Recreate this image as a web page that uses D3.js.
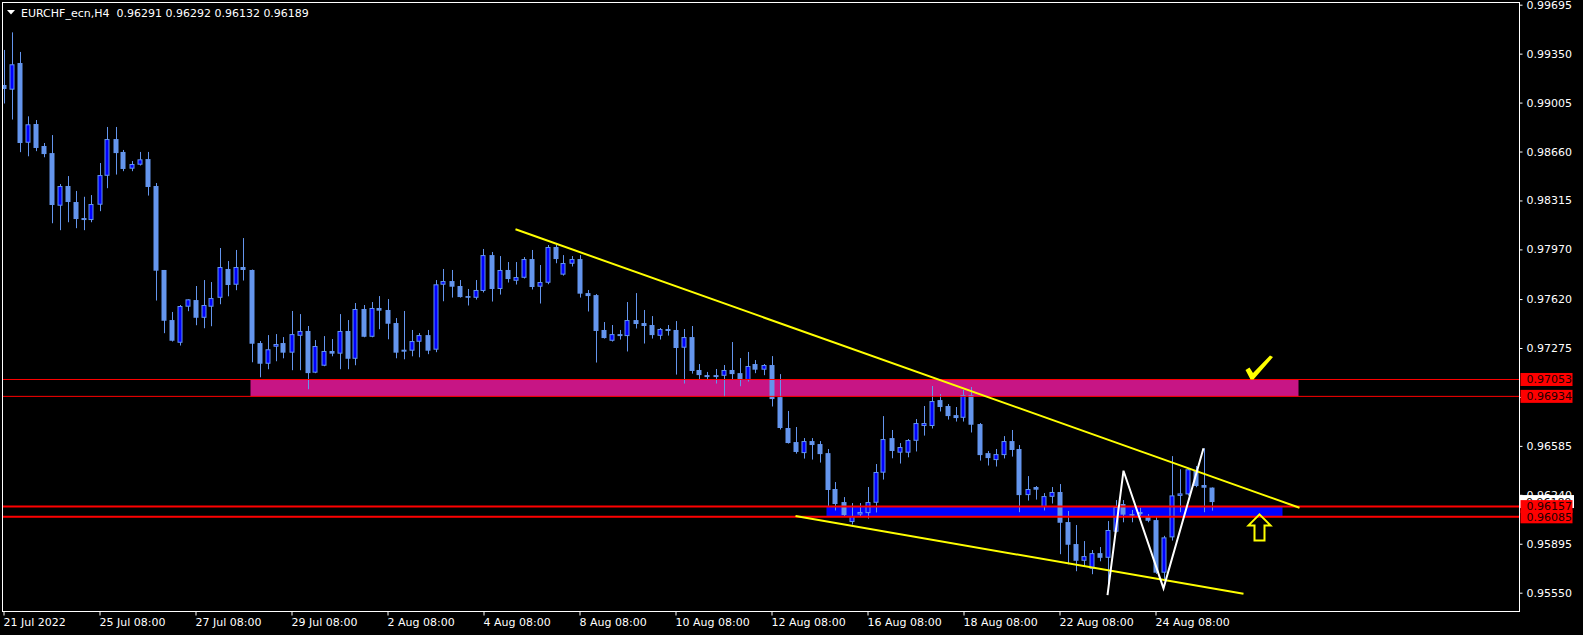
<!DOCTYPE html>
<html><head><meta charset="utf-8">
<script src="https://cdn.jsdelivr.net/npm/d3@7"></script>
<style>html,body{margin:0;padding:0;background:#000;overflow:hidden}svg{display:block}</style>
</head><body>
<svg id="c" width="1583" height="635"></svg>
<script>
const symbolName = "EURCHF_ecn,H4";
const headerOHLC = ["0.96291","0.96292","0.96132","0.96189"];
const opens = [0.99129,0.99096,0.99284,0.98722,0.98854,0.98699,0.98649,0.98278,0.98417,0.98304,
0.98191,0.98177,0.98285,0.98489,0.98748,0.98657,0.98539,0.98567,0.98607,0.98417,
0.97825,0.97472,0.97312,0.97566,0.97613,0.97488,0.97566,0.97629,0.97832,0.97721,
0.97846,0.97825,0.97310,0.97164,0.97284,0.97310,0.97242,0.97361,0.97395,0.97101,
0.97150,0.97254,0.97235,0.97395,0.97199,0.97550,0.97354,0.97557,0.97543,0.97451,
0.97263,0.97256,0.97319,0.97366,0.97263,0.97721,0.97747,0.97712,0.97641,0.97629,
0.97677,0.97930,0.97691,0.97825,0.97749,0.97770,0.97902,0.97707,0.97735,0.97987,
0.97792,0.97869,0.97902,0.97662,0.97648,0.97402,0.97326,0.97373,0.97359,0.97472,
0.97451,0.97437,0.97361,0.97409,0.97402,0.97277,0.97352,0.97120,0.97084,0.97084,
0.97079,0.97120,0.97098,0.97049,0.97162,0.97122,0.97155,0.96929,0.96711,0.96612,
0.96534,0.96619,0.96598,0.96534,0.96281,0.96189,0.96048,0.96104,0.96111,0.96184,
0.96396,0.96640,0.96537,0.96537,0.96621,0.96725,0.96725,0.96908,0.96866,0.96802,
0.96783,0.96943,0.96739,0.96534,0.96485,0.96520,0.96619,0.96563,0.96238,0.96295,
0.96154,0.96226,0.96260,0.96048,0.95893,0.95775,0.95719,0.95829,0.95796,0.95980,
0.96175,0.96104,0.96119,0.96090,0.96062,0.95691,0.95940,0.96236,0.96243,0.96415,
0.96309,0.96291];
const highs = [0.99376,0.99500,0.99362,0.98908,0.98882,0.98720,0.98776,0.98431,0.98487,0.98382,
0.98341,0.98353,0.98579,0.98833,0.98833,0.98671,0.98593,0.98657,0.98657,0.98438,
0.97825,0.97529,0.97578,0.97618,0.97712,0.97754,0.97740,0.97980,0.97888,0.97966,
0.98050,0.97828,0.97324,0.97366,0.97373,0.97352,0.97536,0.97514,0.97430,0.97331,
0.97359,0.97338,0.97514,0.97472,0.97592,0.97578,0.97599,0.97641,0.97620,0.97486,
0.97536,0.97402,0.97380,0.97402,0.97754,0.97832,0.97825,0.97754,0.97691,0.97754,
0.97973,0.97952,0.97923,0.97881,0.97881,0.97916,0.97966,0.97860,0.98001,0.98001,
0.97930,0.97923,0.97930,0.97684,0.97655,0.97458,0.97437,0.97402,0.97599,0.97662,
0.97543,0.97500,0.97416,0.97437,0.97465,0.97409,0.97430,0.97162,0.97106,0.97127,
0.97155,0.97317,0.97204,0.97247,0.97190,0.97162,0.97218,0.97091,0.96831,0.96718,
0.96640,0.96640,0.96619,0.96563,0.96330,0.96224,0.96182,0.96182,0.96295,0.96457,
0.96795,0.96697,0.96605,0.96633,0.96774,0.96866,0.97007,0.96950,0.96880,0.96859,
0.96979,0.97000,0.96746,0.96549,0.96563,0.96654,0.96697,0.96591,0.96372,0.96302,
0.96252,0.96295,0.96316,0.96126,0.96027,0.95914,0.95851,0.95872,0.96055,0.96203,
0.96203,0.96133,0.96149,0.96104,0.96085,0.95951,0.96513,0.96420,0.96427,0.96443,
0.96568,0.96292];
const lows = [0.99002,0.98889,0.98659,0.98630,0.98666,0.98623,0.98158,0.98109,0.98165,0.98123,
0.98109,0.98165,0.98243,0.98405,0.98501,0.98525,0.98525,0.98565,0.98353,0.97613,
0.97383,0.97324,0.97296,0.97538,0.97439,0.97418,0.97432,0.97587,0.97643,0.97686,
0.97754,0.97178,0.97072,0.97129,0.97185,0.97206,0.97122,0.97122,0.96988,0.97101,
0.97150,0.97220,0.97129,0.97129,0.97157,0.97354,0.97354,0.97411,0.97340,0.97206,
0.97199,0.97220,0.97213,0.97235,0.97249,0.97608,0.97634,0.97634,0.97578,0.97620,
0.97670,0.97606,0.97655,0.97740,0.97726,0.97768,0.97691,0.97592,0.97728,0.97876,
0.97789,0.97853,0.97634,0.97536,0.97176,0.97345,0.97324,0.97338,0.97254,0.97416,
0.97310,0.97345,0.97338,0.97366,0.97091,0.97028,0.97098,0.97056,0.97056,0.97028,
0.96936,0.97054,0.97009,0.97042,0.97101,0.97087,0.96866,0.96704,0.96605,0.96534,
0.96499,0.96492,0.96471,0.96163,0.96133,0.96090,0.96034,0.96090,0.96076,0.96119,
0.96351,0.96501,0.96464,0.96508,0.96549,0.96661,0.96711,0.96831,0.96774,0.96760,
0.96760,0.96683,0.96485,0.96450,0.96443,0.96500,0.96513,0.96121,0.96203,0.96210,
0.96133,0.96182,0.95825,0.95754,0.95705,0.95738,0.95684,0.95775,0.95583,0.95978,
0.96050,0.96050,0.96062,0.96050,0.95686,0.95639,0.95921,0.96121,0.96238,0.96297,
0.96121,0.96132];
const closes = [0.99101,0.99275,0.98720,0.98852,0.98685,0.98642,0.98283,0.98417,0.98304,0.98184,
0.98177,0.98290,0.98494,0.98748,0.98649,0.98537,0.98572,0.98605,0.98410,0.97820,
0.97467,0.97326,0.97571,0.97618,0.97488,0.97578,0.97627,0.97846,0.97719,0.97846,
0.97825,0.97305,0.97164,0.97266,0.97303,0.97242,0.97373,0.97395,0.97098,0.97289,
0.97254,0.97235,0.97395,0.97199,0.97550,0.97354,0.97557,0.97538,0.97446,0.97242,
0.97249,0.97324,0.97366,0.97256,0.97724,0.97747,0.97707,0.97634,0.97629,0.97684,
0.97930,0.97691,0.97825,0.97761,0.97775,0.97902,0.97705,0.97740,0.97987,0.97902,
0.97874,0.97902,0.97658,0.97641,0.97395,0.97345,0.97373,0.97359,0.97472,0.97444,
0.97430,0.97366,0.97409,0.97395,0.97275,0.97352,0.97113,0.97084,0.97070,0.97070,
0.97120,0.97091,0.97056,0.97148,0.97122,0.97155,0.96915,0.96711,0.96605,0.96542,
0.96619,0.96591,0.96527,0.96274,0.96175,0.96097,0.96090,0.96119,0.96189,0.96401,
0.96633,0.96549,0.96577,0.96626,0.96746,0.96746,0.96901,0.96859,0.96795,0.96781,
0.96943,0.96734,0.96520,0.96499,0.96527,0.96619,0.96556,0.96238,0.96281,0.96276,
0.96231,0.96260,0.96043,0.95888,0.95775,0.95808,0.95829,0.95796,0.95992,0.96156,
0.96100,0.96095,0.96104,0.96057,0.95691,0.95940,0.96236,0.96250,0.96420,0.96302,
0.96290,0.96189];
const timeLabels = ["21 Jul 2022","25 Jul 08:00","27 Jul 08:00","29 Jul 08:00","2 Aug 08:00","4 Aug 08:00","8 Aug 08:00","10 Aug 08:00","12 Aug 08:00","16 Aug 08:00","18 Aug 08:00","22 Aug 08:00","24 Aug 08:00"];
const labelEvery = 12;
const priceTicks = [0.99695,0.99350,0.99005,0.98660,0.98315,0.97970,0.97620,0.97275,0.96930,0.96585,0.96240,0.95895,0.95550];
const levelPrices = [0.97053,0.96934,0.96157,0.96085];
const levelWidths = [1,1,2,2];
const currentPrice = 0.96189;
const pinkZone = {i0:31, i1:162, p0:0.97053, p1:0.96934};
const blueZone = {i0:103, i1:160, p0:0.96157, p1:0.96085};
const upperTrendIdx = [64,162], upperTrendPrice = [0.98112,0.96149];
const lowerTrendIdx = [99,155], lowerTrendPrice = [0.96090,0.95542];
const zigIdx = [138,140,145,150], zigPrice = [0.95533,0.96410,0.95581,0.96568];
const checkAnchor = {i:156, p:0.97053};
const arrowAnchor = {i:157, p:0.96102};

const bars = opens.map((o,i)=>({i,o,h:highs[i],l:lows[i],c:closes[i]}));

const FONT = "'DejaVu Sans', Tahoma, sans-serif";
const WICK = "#6495ED", BULL = "#0000FF", BEAR = "#6495ED";
const svg = d3.select("#c");
const L=2, R=1519, T=2, B=611;

const x = d3.scaleLinear().domain([0, bars.length-1]).range([3.5, 3.5 + 8*(bars.length-1)]);
const y = d3.scaleLinear().domain([0.95550, 0.99695]).range([592.7, 4.7]);

svg.append("rect").attr("width",1583).attr("height",635).attr("fill","#000");
svg.append("clipPath").attr("id","plot").append("rect").attr("x",L).attr("y",T).attr("width",R-L).attr("height",B-T);
const g = svg.append("g").attr("clip-path","url(#plot)");

// zones
g.append("rect").attr("x",x(pinkZone.i0)-1).attr("width",x(pinkZone.i1)-x(pinkZone.i0))
 .attr("y",y(pinkZone.p0)).attr("height",y(pinkZone.p1)-y(pinkZone.p0)).attr("fill","#C71585");
g.append("rect").attr("x",x(blueZone.i0)-1).attr("width",x(blueZone.i1)-x(blueZone.i0))
 .attr("y",y(blueZone.p0)).attr("height",y(blueZone.p1)-y(blueZone.p0)).attr("fill","#0000FF");

// candles
const cg = g.append("g");
cg.selectAll("line.w").data(bars).join("line").attr("class","w")
  .attr("x1",d=>Math.round(x(d.i))+0.5).attr("x2",d=>Math.round(x(d.i))+0.5)
  .attr("y1",d=>y(d.h)).attr("y2",d=>y(d.l)+0.5).attr("stroke",WICK).attr("stroke-width",1);
cg.selectAll("rect.b").data(bars).join("rect").attr("class","b")
  .attr("x",d=>Math.round(x(d.i))-2)
  .attr("width",d=>d.c>d.o?4:5)
  .attr("y",d=>{const t=y(Math.max(d.o,d.c)); return d.c>d.o? t+0.5 : t;})
  .attr("height",d=>{const hh=Math.abs(y(d.o)-y(d.c)); return Math.max(d.c>d.o?hh-1:hh,1.5);})
  .attr("transform",d=>d.c>d.o?"translate(0,0)":"translate(-0.5,0)")
  .attr("fill",d=>d.c>d.o?BULL:BEAR)
  .attr("stroke",d=>d.c>d.o?WICK:"none").attr("stroke-width",1);

// level lines
g.selectAll("line.lv").data(levelPrices).join("line").attr("class","lv")
  .attr("x1",L).attr("x2",R).attr("y1",d=>y(d)).attr("y2",d=>y(d))
  .attr("stroke","#FF0000").attr("stroke-width",(d,i)=>levelWidths[i]);

// trend lines
const ln = d3.line().x(d=>x(d[0])).y(d=>y(d[1]));
g.append("path").attr("d",ln(d3.zip(upperTrendIdx,upperTrendPrice))).attr("stroke","#FFFF00").attr("stroke-width",2).attr("fill","none");
g.append("path").attr("d",ln(d3.zip(lowerTrendIdx,lowerTrendPrice))).attr("stroke","#FFFF00").attr("stroke-width",2).attr("fill","none");
g.append("path").attr("d",ln(d3.zip(zigIdx,zigPrice))).attr("stroke","#FFFFFF").attr("stroke-width",2).attr("fill","none");

// check mark glyph
const cx = x(checkAnchor.i), cy = y(checkAnchor.p);
g.append("path").attr("transform",`translate(${cx},${cy})`)
  .attr("d","M-6,-9.5 L-2,-12 L1.5,-6.5 L18.5,-24 L21.5,-22.5 L2,0 L-1,0 Z").attr("fill","#FFFF00");
// arrow glyph
const ax = x(arrowAnchor.i), ay = y(arrowAnchor.p);
g.append("path").attr("transform",`translate(${ax},${ay})`)
  .attr("d","M0,0 L11,11 L5,11 L5,26 L-5,26 L-5,11 L-11,11 Z")
  .attr("fill","none").attr("stroke","#FFFF00").attr("stroke-width",2).attr("stroke-linejoin","miter");

// frame
svg.append("rect").attr("x",L+0.5).attr("y",T+0.5).attr("width",R-L).attr("height",B-T)
  .attr("fill","none").attr("stroke","#FFFFFF").attr("stroke-width",1);

// price axis
const ya = svg.append("g").attr("transform",`translate(${R+0.5},0)`)
  .call(d3.axisRight(y).tickValues(priceTicks).tickSize(3).tickPadding(4).tickFormat(d3.format(".5f")));
ya.select(".domain").remove();
ya.selectAll(".tick line").attr("stroke","#FFFFFF");
ya.selectAll(".tick text").attr("fill","#FFFFFF").style("font-family",FONT).style("font-size","11px");

// time axis
const xa = svg.append("g").attr("transform",`translate(0,${B+0.5})`)
  .call(d3.axisBottom(x).tickValues(d3.range(0,bars.length,labelEvery)).tickSize(4).tickPadding(3)
        .tickFormat((d,i)=>timeLabels[i]));
xa.select(".domain").remove();
xa.selectAll(".tick line").attr("stroke","#FFFFFF");
xa.selectAll(".tick text").attr("fill","#FFFFFF").attr("text-anchor","start").attr("x",-0.5)
  .style("font-family",FONT).style("font-size","11px");

// current price label (white)
const lab = svg.append("g");
const pyc = y(currentPrice);
lab.append("rect").attr("x",R+1).attr("y",pyc-7).attr("width",54).attr("height",13).attr("fill","#FFFFFF");
lab.append("text").attr("x",R+7).attr("y",pyc).attr("dy","0.35em").text(d3.format(".5f")(currentPrice))
  .attr("fill","#000").style("font-family",FONT).style("font-size","11px");
// level labels (red)
levelPrices.forEach(p=>{
  const py = y(p);
  lab.append("rect").attr("x",R+1.5).attr("y",py-6.5).attr("width",52).attr("height",13).attr("fill","#FF0000");
  lab.append("text").attr("x",R+7.5).attr("y",py).attr("dy","0.35em").text(d3.format(".5f")(p))
    .attr("fill","#200000").style("font-family",FONT).style("font-size","11px");
});

// header
svg.append("path").attr("d","M7,10 L15,10 L11,14.5 Z").attr("fill","#FFFFFF");
svg.append("text").attr("x",21).attr("y",17).attr("fill","#FFFFFF")
  .style("font-family",FONT).style("font-size","11px").attr("xml:space","preserve")
  .text(symbolName + "  " + headerOHLC.join(" "));
</script>
</body></html>
